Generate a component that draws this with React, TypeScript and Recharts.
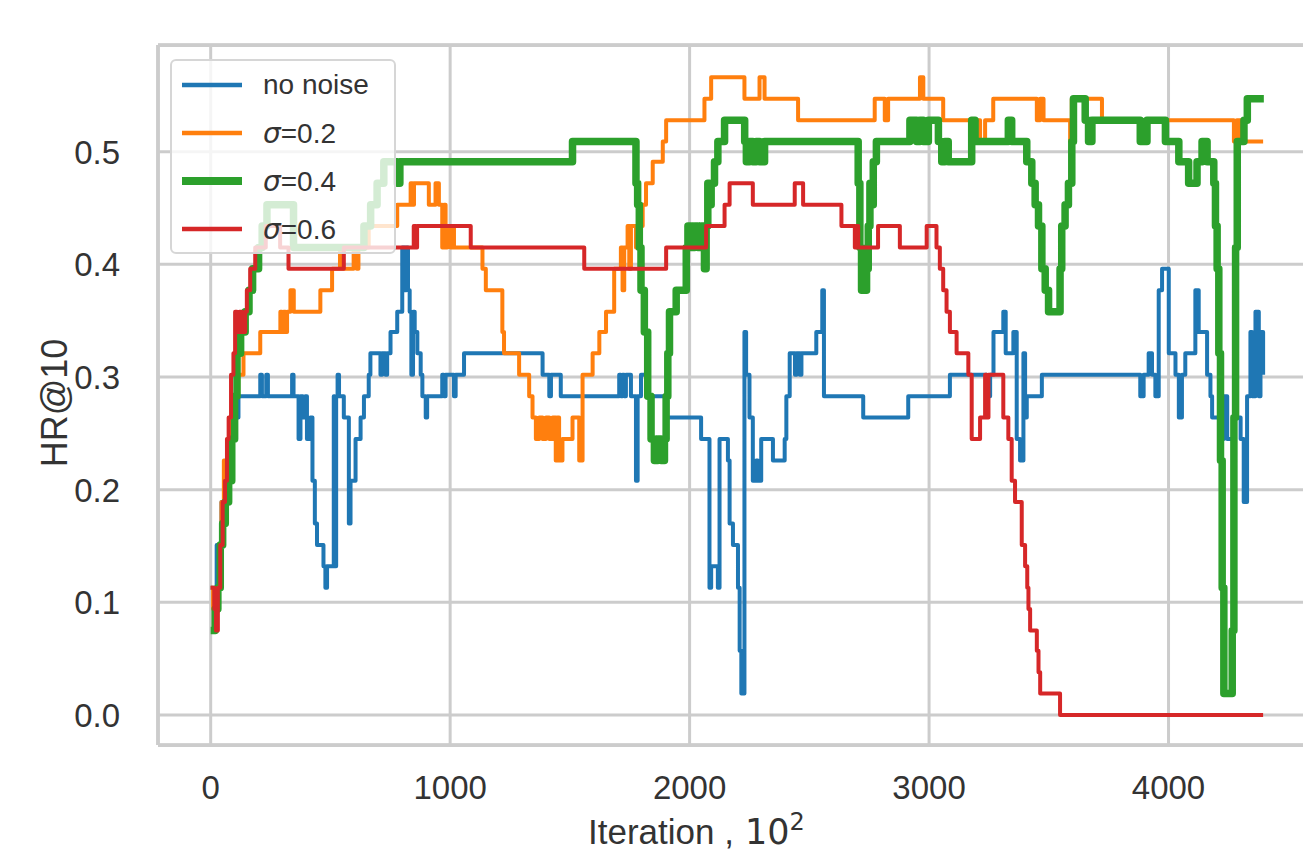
import React from "react";
import { LineChart, Line, XAxis, YAxis, CartesianGrid, Label, ReferenceLine } from "recharts";

// x: iteration (x100), y: HR@10
const xTicks = [0, 1000, 2000, 3000, 4000];
const yTicks = [0, 0.1, 0.2, 0.3, 0.4, 0.5];
const xDomain = [-220, 4620];
const yDomain = [-0.0266, 0.5947];

const seriesNames = ["no noise", "σ=0.2", "σ=0.4", "σ=0.6"];
const seriesColors = ["#1f77b4", "#ff7f0e", "#2ca02c", "#d62728"];
const seriesWidths = [4, 4, 7.5, 4];

const noNoise: [number, number][] = [
  [0, 0.113], [25, 0.151], [45, 0.189], [65, 0.226], [85, 0.245], [100, 0.264], [116, 0.283],
  [207, 0.302], [214, 0.283], [232, 0.302], [239, 0.283], [340, 0.302], [346, 0.283], [367, 0.245],
  [375, 0.283], [385, 0.264], [395, 0.283], [402, 0.245], [416, 0.264], [425, 0.208], [435, 0.17],
  [444, 0.151], [471, 0.132], [479, 0.113], [486, 0.132], [514, 0.283], [518, 0.132], [524, 0.283],
  [530, 0.302], [536, 0.283], [556, 0.264], [577, 0.17], [584, 0.208], [605, 0.245], [626, 0.264],
  [640, 0.283], [660, 0.302], [667, 0.321], [709, 0.302], [716, 0.321], [730, 0.302], [737, 0.321],
  [751, 0.34], [779, 0.358], [800, 0.415], [810, 0.377], [817, 0.415], [824, 0.377], [831, 0.358],
  [838, 0.302], [845, 0.358], [852, 0.34], [863, 0.321], [877, 0.302], [884, 0.283], [898, 0.264],
  [904, 0.283], [967, 0.302], [974, 0.283], [981, 0.302], [1016, 0.283], [1023, 0.302], [1058, 0.321],
  [1386, 0.302], [1414, 0.283], [1421, 0.302], [1462, 0.283], [1706, 0.302], [1713, 0.283],
  [1720, 0.302], [1727, 0.283], [1734, 0.302], [1755, 0.283], [1776, 0.208], [1783, 0.283],
  [1797, 0.302], [1818, 0.283], [1900, 0.264], [2048, 0.245], [2083, 0.113], [2090, 0.132],
  [2118, 0.113], [2125, 0.245], [2160, 0.226], [2167, 0.17], [2181, 0.151], [2202, 0.113],
  [2209, 0.057], [2216, 0.019], [2229, 0.34], [2236, 0.302], [2250, 0.264], [2264, 0.208],
  [2278, 0.226], [2285, 0.208], [2299, 0.245], [2348, 0.226], [2397, 0.245], [2404, 0.283],
  [2418, 0.321], [2440, 0.302], [2447, 0.321], [2460, 0.302], [2467, 0.321], [2529, 0.34],
  [2554, 0.377], [2561, 0.283], [2725, 0.264], [2913, 0.283], [3087, 0.302], [3241, 0.283],
  [3255, 0.302], [3269, 0.34], [3310, 0.358], [3320, 0.321], [3352, 0.34], [3366, 0.245],
  [3380, 0.226], [3394, 0.321], [3401, 0.264], [3408, 0.283], [3471, 0.302], [3882, 0.283],
  [3896, 0.302], [3917, 0.321], [3931, 0.302], [3945, 0.283], [3959, 0.377], [3973, 0.396],
  [4001, 0.321], [4029, 0.302], [4043, 0.264], [4056, 0.302], [4070, 0.321], [4112, 0.377],
  [4126, 0.34], [4161, 0.302], [4175, 0.283], [4182, 0.264], [4217, 0.245], [4231, 0.283],
  [4245, 0.245], [4273, 0.264], [4301, 0.245], [4314, 0.189], [4328, 0.283], [4342, 0.34],
  [4349, 0.283], [4363, 0.358], [4377, 0.283], [4384, 0.34], [4395, 0.302],
];

const sigma02: [number, number][] = [
  [0, 0.113], [10, 0.094], [25, 0.113], [35, 0.151], [45, 0.189], [55, 0.226], [70, 0.245],
  [85, 0.264], [100, 0.283], [115, 0.302], [137, 0.321], [207, 0.34], [291, 0.358], [298, 0.34],
  [305, 0.358], [312, 0.34], [319, 0.358], [333, 0.377], [347, 0.358], [458, 0.377], [507, 0.396],
  [540, 0.415], [548, 0.396], [597, 0.415], [610, 0.396], [617, 0.415], [660, 0.434], [779, 0.453],
  [835, 0.472], [842, 0.453], [849, 0.472], [911, 0.453], [939, 0.472], [953, 0.453], [967, 0.415],
  [974, 0.453], [981, 0.415], [988, 0.434], [1002, 0.415], [1009, 0.434], [1016, 0.415],
  [1135, 0.396], [1149, 0.377], [1218, 0.34], [1225, 0.321], [1288, 0.302], [1330, 0.283],
  [1344, 0.264], [1358, 0.245], [1372, 0.264], [1386, 0.245], [1400, 0.264], [1414, 0.245],
  [1428, 0.264], [1441, 0.226], [1448, 0.264], [1455, 0.226], [1469, 0.245], [1511, 0.264],
  [1539, 0.226], [1553, 0.302], [1595, 0.321], [1623, 0.34], [1651, 0.358], [1685, 0.396],
  [1713, 0.415], [1720, 0.377], [1727, 0.415], [1741, 0.434], [1748, 0.396], [1755, 0.434],
  [1776, 0.415], [1790, 0.434], [1804, 0.453], [1818, 0.472], [1846, 0.491], [1888, 0.509],
  [1902, 0.528], [2062, 0.547], [2090, 0.566], [2229, 0.547], [2292, 0.566], [2313, 0.547],
  [2453, 0.528], [2773, 0.547], [2815, 0.528], [2829, 0.547], [2962, 0.566], [2976, 0.547],
  [3059, 0.528], [3213, 0.509], [3234, 0.528], [3268, 0.547], [3450, 0.528], [3464, 0.547],
  [3478, 0.528], [3589, 0.509], [3596, 0.547], [3722, 0.528], [4273, 0.509], [4285, 0.528],
  [4300, 0.509], [4395, 0.509],
];

const sigma04: [number, number][] = [
  [0, 0.075], [19, 0.094], [30, 0.113], [40, 0.151], [50, 0.17], [61, 0.189], [75, 0.208],
  [88, 0.245], [100, 0.283], [110, 0.321], [125, 0.34], [144, 0.358], [160, 0.377], [175, 0.396],
  [200, 0.415], [215, 0.434], [235, 0.453], [346, 0.415], [640, 0.434], [668, 0.453], [695, 0.472],
  [723, 0.491], [779, 0.472], [790, 0.491], [1511, 0.509], [1776, 0.472], [1783, 0.453],
  [1790, 0.415], [1797, 0.377], [1811, 0.34], [1825, 0.283], [1839, 0.245], [1853, 0.226],
  [1867, 0.245], [1881, 0.226], [1895, 0.245], [1902, 0.283], [1909, 0.321], [1916, 0.358],
  [1944, 0.377], [1986, 0.415], [1993, 0.434], [2007, 0.415], [2021, 0.434], [2035, 0.415],
  [2049, 0.434], [2062, 0.396], [2069, 0.434], [2076, 0.472], [2083, 0.453], [2090, 0.472],
  [2104, 0.491], [2118, 0.509], [2146, 0.528], [2230, 0.509], [2237, 0.491], [2250, 0.509],
  [2264, 0.491], [2278, 0.509], [2292, 0.491], [2313, 0.509], [2704, 0.472], [2711, 0.415],
  [2718, 0.377], [2739, 0.396], [2746, 0.434], [2753, 0.472], [2760, 0.453], [2767, 0.491],
  [2780, 0.509], [2920, 0.528], [2948, 0.509], [2962, 0.528], [2976, 0.509], [2997, 0.528],
  [3039, 0.509], [3053, 0.491], [3066, 0.509], [3080, 0.491], [3178, 0.528], [3192, 0.509],
  [3331, 0.528], [3345, 0.509], [3408, 0.491], [3429, 0.472], [3443, 0.453], [3457, 0.434],
  [3471, 0.396], [3485, 0.377], [3499, 0.358], [3547, 0.396], [3554, 0.434], [3568, 0.453],
  [3582, 0.472], [3596, 0.509], [3603, 0.547], [3652, 0.528], [3666, 0.509], [3680, 0.528],
  [3882, 0.509], [3910, 0.528], [3987, 0.509], [4043, 0.491], [4084, 0.472], [4119, 0.491],
  [4140, 0.509], [4161, 0.491], [4189, 0.472], [4196, 0.434], [4203, 0.396], [4210, 0.321],
  [4217, 0.226], [4224, 0.113], [4231, 0.019], [4266, 0.075], [4273, 0.264], [4280, 0.415],
  [4287, 0.509], [4315, 0.528], [4329, 0.547], [4398, 0.547],
];

const sigma06: [number, number][] = [
  [0, 0.113], [15, 0.094], [22, 0.075], [30, 0.113], [40, 0.151], [50, 0.189], [60, 0.208],
  [68, 0.245], [75, 0.264], [85, 0.302], [95, 0.321], [102, 0.358], [110, 0.34], [120, 0.358],
  [130, 0.34], [144, 0.358], [151, 0.377], [165, 0.396], [186, 0.415], [230, 0.434], [290, 0.415],
  [325, 0.396], [556, 0.415], [848, 0.434], [855, 0.415], [862, 0.434], [1086, 0.415],
  [1560, 0.396], [1902, 0.415], [2069, 0.434], [2146, 0.453], [2167, 0.472], [2264, 0.453],
  [2439, 0.472], [2474, 0.453], [2634, 0.434], [2690, 0.415], [2697, 0.434], [2704, 0.415],
  [2787, 0.434], [2878, 0.415], [2990, 0.434], [3031, 0.415], [3045, 0.396], [3059, 0.377],
  [3073, 0.358], [3087, 0.34], [3115, 0.321], [3164, 0.302], [3178, 0.245], [3213, 0.264],
  [3234, 0.302], [3241, 0.264], [3248, 0.302], [3310, 0.264], [3331, 0.245], [3345, 0.208],
  [3359, 0.189], [3387, 0.151], [3401, 0.132], [3410, 0.113], [3415, 0.094], [3422, 0.075],
  [3450, 0.057], [3457, 0.038], [3464, 0.019], [3547, 0], [4395, 0],
];

const allSeries = [noNoise, sigma02, sigma04, sigma06];
const toPoints = (s: [number, number][]) => s.map(([x, y]) => ({ x, y }));

const TEXT = "#333333";
const FONT = "'Liberation Sans', Arial, sans-serif";

function XTick(props: any) {
  const { x, y, payload } = props;
  return (
    <text x={x} y={y + 52} textAnchor="middle" fontSize={33} fontFamily={FONT} fill={TEXT}>
      {payload.value}
    </text>
  );
}

function YTick(props: any) {
  const { x, y, payload } = props;
  return (
    <text x={x - 36} y={y + 12} textAnchor="end" fontSize={33} fontFamily={FONT} fill={TEXT}>
      {Number(payload.value).toFixed(1)}
    </text>
  );
}

function LegendLabel({ name }: { name: string }) {
  if (name.startsWith("σ")) {
    return (
      <span>
        <span style={{ fontFamily: "'DejaVu Sans'", fontStyle: "italic" }}>σ</span>
        {name.slice(1)}
      </span>
    );
  }
  return <span>{name}</span>;
}

// legend drawn as an overlay so it takes no room from the plot area
function LegendBox() {
  return (
    <div
      style={{
        position: "absolute",
        left: 170,
        top: 59,
        width: 226,
        height: 195,
        boxSizing: "border-box",
        border: "2px solid #d6d6d6",
        borderRadius: 6,
        background: "rgba(255,255,255,0.8)",
      }}
    >
      {seriesNames.map((name, i) => (
        <div
          key={name}
          style={{
            position: "absolute",
            left: 10,
            top: 24 + i * 48 - 18,
            height: 36,
            display: "flex",
            alignItems: "center",
            whiteSpace: "nowrap",
          }}
        >
          <svg width={60} height={12}>
            <line x1={0} x2={60} y1={6} y2={6} stroke={seriesColors[i]} strokeWidth={seriesWidths[i] + 0.5} />
          </svg>
          <span style={{ marginLeft: 21, fontSize: 28, fontFamily: FONT, color: TEXT }}>
            <LegendLabel name={name} />
          </span>
        </div>
      ))}
    </div>
  );
}

export default function App() {
  return (
    <div style={{ position: "fixed", left: 0, top: 0, width: 1303, height: 855, overflow: "hidden", background: "#fff" }}>
      <LineChart width={1340} height={855} margin={{ top: 45, right: 23, bottom: 0, left: 0 }}>
        <CartesianGrid stroke="#cccccc" strokeWidth={3} />
        <XAxis
          dataKey="x"
          type="number"
          domain={xDomain}
          ticks={xTicks}
          allowDataOverflow
          height={110}
          tickSize={0}
          tickLine={false}
          axisLine={{ stroke: "#cccccc", strokeWidth: 3.75 }}
          tick={<XTick />}
          interval={0}
        >
          <Label
            content={() => (
              <text x={588} y={844} fontSize={35} fontFamily={FONT} fill={TEXT}>
                Iteration ,
                <tspan x={745} fontFamily="'DejaVu Sans'">10</tspan>
                <tspan fontFamily="'DejaVu Sans'" fontSize={24} dy={-14}>2</tspan>
              </text>
            )}
          />
        </XAxis>
        <YAxis
          type="number"
          domain={yDomain}
          ticks={yTicks}
          allowDataOverflow
          width={158}
          tickSize={0}
          tickLine={false}
          axisLine={{ stroke: "#cccccc", strokeWidth: 3.75 }}
          tick={<YTick />}
          interval={0}
        >
          <Label
            content={() => (
              <text
                x={67}
                y={403}
                transform="rotate(-90, 67, 403)"
                textAnchor="middle"
                fontSize={36}
                fontFamily={FONT}
                fill={TEXT}
              >
                HR@10
              </text>
            )}
          />
        </YAxis>
        <ReferenceLine y={yDomain[1]} stroke="#cccccc" strokeWidth={3.75} />
        {allSeries.map((s, i) => (
          <Line
            key={seriesNames[i]}
            data={toPoints(s)}
            dataKey="y"
            name={seriesNames[i]}
            type="stepAfter"
            stroke={seriesColors[i]}
            strokeWidth={seriesWidths[i]}
            strokeLinejoin="round"
            dot={false}
            activeDot={false}
            isAnimationActive={false}
          />
        ))}
      </LineChart>
      <LegendBox />
    </div>
  );
}
